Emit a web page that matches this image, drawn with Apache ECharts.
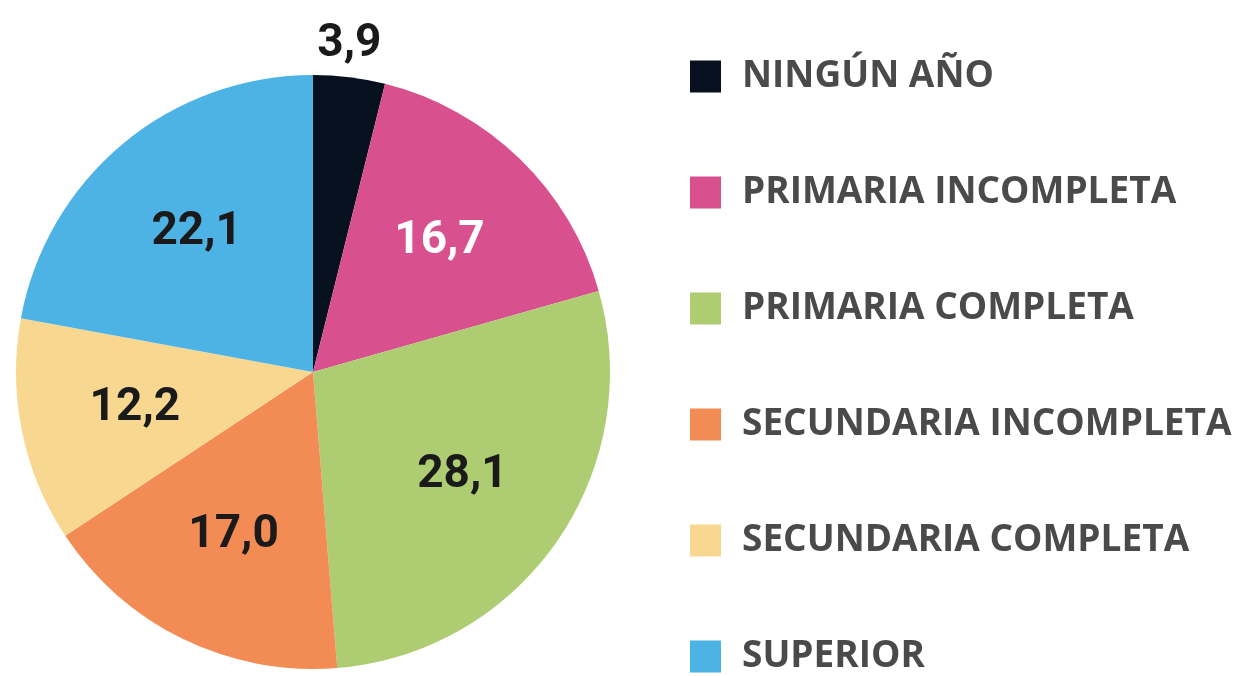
<!DOCTYPE html>
<html>
<head>
<meta charset="utf-8">
<script src="https://cdn.jsdelivr.net/npm/echarts@6/dist/echarts.min.js"></script>
<style>html,body{margin:0;padding:0;background:#fff}#c{width:1240px;height:676px}</style>
</head>
<body>
<div id="c"></div>
<script>
const categories = ['NINGÚN AÑO','PRIMARIA INCOMPLETA','PRIMARIA COMPLETA','SECUNDARIA INCOMPLETA','SECUNDARIA COMPLETA','SUPERIOR'];
const values = [3.9, 16.7, 28.1, 17.0, 12.2, 22.1];
const valueLabels = ['3,9','16,7','28,1','17,0','12,2','22,1'];
const colors = ['#07101e','#d9508f','#aecd73','#f28b54','#f8d890','#4db2e4'];
const labelColors = ['#1a1a1a','#ffffff','#1a1a1a','#1a1a1a','#1a1a1a','#1a1a1a'];

const CX = 313, CY = 372, R = 297;
const chart = echarts.init(document.getElementById('c'), null, {renderer:'canvas'});
chart.setOption({
  animation:false,
  backgroundColor:'#ffffff',
  legend:{
    orient:'vertical', left:690, top:58, height:618, padding:0,
    itemWidth:31, itemHeight:32, itemGap:79,
    icon:'rect',
    data:categories,
    textStyle:{fontFamily:'Open Sans', fontWeight:'bold', fontSize:37, color:'#4a4a4a', lineHeight:32, padding:[0,0,0,16]}
  },
  series:[{
    type:'pie',
    center:[CX,CY], radius:[0,R],
    startAngle:90, clockwise:true,
    label:{
      show:true, position:'inside',
      fontFamily:'Roboto',
      fontWeight:'bold', fontSize:46,
      formatter:p=>valueLabels[p.dataIndex]
    },
    labelLine:{show:false},
    labelLayout:function(p){
      const lr=p.labelRect;
      const lx=lr.x+lr.width/2, ly=lr.y+lr.height/2;
      const f = p.dataIndex===0 ? 2.18 : 1.2;
      return {x:CX+(lx-CX)*f - (p.dataIndex===0?4:0), y:CY+(ly-CY)*f, align:'center', verticalAlign:'middle'};
    },
    emphasis:{disabled:true},
    data:categories.map((n,i)=>({name:n, value:values[i], itemStyle:{color:colors[i]}, label:{color:labelColors[i]}}))
  }]
});
</script>
</body>
</html>
